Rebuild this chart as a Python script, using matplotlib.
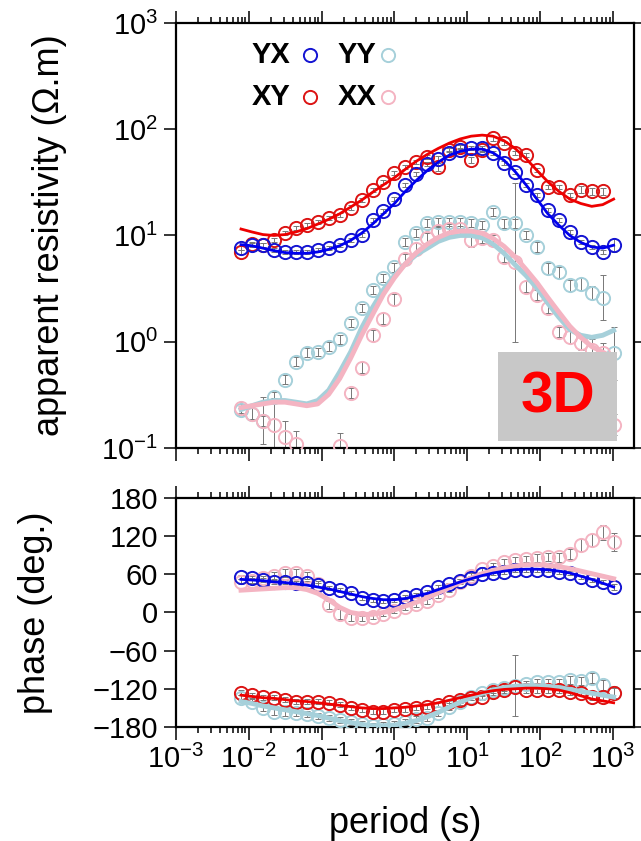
import numpy as np
import matplotlib
matplotlib.use("Agg")
import matplotlib.pyplot as plt
from matplotlib.ticker import LogLocator, NullLocator, NullFormatter, FixedLocator

plt.rcParams['font.family'] = ['Liberation Sans', 'DejaVu Sans']
plt.rcParams['mathtext.fontset'] = 'custom'
plt.rcParams['mathtext.rm'] = 'Liberation Sans'
plt.rcParams['mathtext.it'] = 'Liberation Sans'

nan = np.nan

# periods (s)
period = [0.00781, 0.0110, 0.0156, 0.0221, 0.0313, 0.0442, 0.0625, 0.0884, 0.125, 0.177,
          0.25, 0.354, 0.5, 0.707, 1.0, 1.41, 2.0, 2.83, 4.0, 5.66,
          8.0, 11.3, 16.0, 22.6, 32.0, 45.3, 64.0, 90.5, 128.0, 181.0,
          256.0, 362.0, 512.0, 724.0, 1024.0]

# apparent resistivity, observed
rho_yx = [7.6, 8.1, 8.1, 7.3, 7.0, 7.0, 7.0, 7.3, 7.6, 8.1,
          9.1, 10.1, 14.0, 17.0, 22.0, 30.0, 38.0, 47.0, 53.0, 60.0,
          64.0, 67.0, 66.0, 60.0, 48.0, 40.0, 30.0, 24.0, 17.4, 14.0,
          10.8, 8.7, 7.8, 7.0, 8.1]
rho_xy = [7.0, 8.3, 8.1, 9.1, 10.6, 11.8, 12.6, 13.4, 14.6, 15.6,
          18.3, 21.5, 27.0, 32.0, 39.0, 44.0, 49.0, 55.0, 44.0, 64.0,
          68.0, 51.0, 64.0, 82.0, 74.0, 60.0, 57.0, 41.0, 28.5, 28.5,
          24.0, 27.0, 26.0, 26.0, nan]
rho_yy = [0.23, 0.21, 0.18, 0.30, 0.44, 0.65, 0.79, 0.80, 0.90, 1.05,
          1.5, 2.08, 3.07, 4.0, 5.0, 8.7, 10.6, 13.1, 13.3, 13.4,
          13.4, 13.1, 12.5, 16.6, 13.0, 13.0, 10.1, 7.8, 4.9, 4.5,
          3.4, 3.5, 2.9, 2.6, 0.78]
rho_xx = [0.24, 0.21, 0.18, 0.165, 0.127, 0.11, nan, nan, nan, 0.105,
          0.33, 0.57, 1.15, 1.65, 2.5, 6.0, 7.5, 9.5, 11.0, 11.5,
          11.5, 9.0, 9.5, 9.1, 6.3, 5.6, 3.3, 2.75, 2.08, 1.24,
          1.11, 0.97, 0.84, 0.78, 0.166]

# error half widths (log10 units)
err_yx = [0.02, 0.02, 0.02, 0.02, 0.02, 0.02, 0.02, 0.02, 0.02, 0.02,
          0.02, 0.02, 0.02, 0.02, 0.02, 0.02, 0.02, 0.02, 0.02, 0.02,
          0.02, 0.02, 0.02, 0.02, 0.02, 0.02, 0.02, 0.02, 0.02, 0.02,
          0.02, 0.02, 0.02, 0.02, 0.06]
err_xy = [0.02, 0.02, 0.02, 0.02, 0.02, 0.02, 0.02, 0.02, 0.02, 0.02,
          0.02, 0.02, 0.02, 0.02, 0.02, 0.02, 0.02, 0.02, 0.04, 0.02,
          0.02, 0.03, 0.02, 0.02, 0.02, 0.02, 0.02, 0.02, 0.02, 0.02,
          0.02, 0.03, 0.03, 0.03, 0.03]
err_yy = [0.05, 0.05, 0.22, 0.05, 0.04, 0.04, 0.04, 0.04, 0.04, 0.04,
          0.04, 0.04, 0.04, 0.04, 0.04, 0.04, 0.04, 0.04, 0.04, 0.04,
          0.04, 0.04, 0.04, 0.04, 0.04, 0.04, 0.04, 0.05, 0.05, 0.05,
          0.05, 0.06, 0.06, 0.21, 0.25]
err_xx = [0.05, 0.05, 0.05, 0.25, 0.15, 0.12, nan, nan, nan, 0.12,
          0.05, 0.05, 0.05, 0.05, 0.05, 0.05, 0.05, 0.05, 0.05, 0.05,
          0.06, 0.06, 0.05, 0.05, 0.05, 0.75, 0.05, 0.05, 0.05, 0.05,
          0.06, 0.06, 0.10, 0.10, 0.10]

# apparent resistivity, model response
mrho_yx = [8.2, 8.0, 7.6, 7.2, 6.9, 6.8, 6.8, 7.0, 7.4, 8.0,
           9.0, 10.5, 12.8, 16.0, 20.0, 26.0, 33.0, 41.0, 49.0, 57.0,
           62.0, 65.0, 65.0, 60.0, 51.0, 40.0, 30.0, 22.0, 16.0, 12.5,
           10.0, 8.6, 7.8, 7.6, 8.1]
mrho_xy = [11.5, 10.8, 10.2, 10.0, 10.2, 10.8, 11.6, 12.8, 14.2, 16.0,
           18.5, 21.5, 25.5, 30.0, 35.0, 42.0, 50.0, 58.0, 66.0, 74.0,
           81.0, 86.0, 88.0, 86.0, 78.0, 66.0, 53.0, 41.0, 32.0, 26.0,
           22.0, 20.0, 18.8, 19.5, 22.0]
mrho_yy = [0.23, 0.25, 0.27, 0.28, 0.28, 0.27, 0.26, 0.28, 0.35, 0.52,
           0.8, 1.35, 2.1, 3.1, 4.2, 5.4, 6.6, 7.6, 8.8, 9.6,
           10.0, 10.0, 9.5, 8.3, 6.8, 5.3, 4.2, 3.2, 2.3, 1.7,
           1.3, 1.15, 1.1, 1.15, 1.28]
mrho_xx = [0.24, 0.25, 0.26, 0.27, 0.27, 0.26, 0.25, 0.26, 0.32, 0.45,
           0.7, 1.15, 1.8, 2.8, 4.0, 5.4, 6.9, 8.3, 9.6, 10.6,
           11.0, 11.0, 10.5, 9.4, 7.9, 6.3, 4.8, 3.6, 2.6, 1.9,
           1.4, 1.1, 0.9, 0.8, 0.7]

# phase, observed (deg)
phs_yx = [56, 54, 51, 48, 48, 46, 46, 43, 38, 35,
          30, 23, 19, 18, 20, 24, 27, 32, 40, 44,
          49, 54, 60, 62, 64, 67, 67, 67, 67, 64,
          62, 56, 51, 48, 40]
phs_xx = [48, 50, 54, 58, 62, 62, 58, 45, 12, -2,
          -8, -9, -7, -2, 3, 8, 13, 18, 27, 36,
          48, 58, 68, 73, 79, 82, 84, 86, 87, 87,
          92, 106, 114, 126, 111]
phs_xy = [-126, -130, -133, -134, -137, -140, -140, -140, -142, -145,
          -150, -153, -156, -156, -153, -152, -150, -148, -145, -141,
          -138, -134, -133, -125, -122, -117, -122, -122, -122, -122,
          -125, -126, -133, -133, -126]
phs_yy = [-134, -140, -150, -156, -157, -158, -160, -163, -166, -169,
          -172, -175, -178, -177, -175, -172, -168, -166, -158, -148,
          -140, -133, -127, -122, -118, -115, -112, -110, -109, -109,
          -106, -108, -103, -114, -126]

perr_yx = [3, 3, 3, 3, 3, 3, 3, 3, 3, 3,
           3, 3, 3, 3, 3, 3, 3, 3, 3, 3,
           3, 3, 3, 3, 3, 3, 3, 3, 3, 3,
           3, 3, 3, 3, 4]
perr_xx = [4, 4, 4, 6, 6, 6, 6, 5, 6, 8,
           5, 4, 4, 4, 4, 4, 4, 4, 4, 4,
           4, 4, 4, 4, 5, 5, 5, 6, 6, 7,
           8, 10, 10, 12, 14]
perr_xy = [4, 4, 4, 4, 4, 4, 4, 4, 4, 4,
           4, 4, 4, 4, 4, 4, 4, 4, 4, 4,
           4, 4, 4, 4, 4, 4, 4, 4, 4, 4,
           4, 4, 5, 5, 8]
perr_yy = [4, 4, 5, 5, 5, 5, 5, 5, 5, 5,
           5, 5, 5, 5, 5, 5, 5, 5, 5, 5,
           5, 5, 5, 5, 5, 48, 5, 5, 5, 5,
           6, 6, 8, 8, 10]

# phase, model response
mphs_yx = [52, 51, 50, 48, 47, 45, 43, 40, 37, 33,
           29, 25, 22, 20, 20, 22, 26, 30, 36, 42,
           48, 53, 58, 62, 65, 67, 68, 68, 67, 65,
           62, 57, 52, 46, 40]
mphs_xx = [35, 36, 37, 38, 39, 39, 36, 30, 20, 8,
           0, -3, -3, 0, 4, 10, 16, 23, 31, 39,
           47, 54, 61, 66, 70, 73, 75, 75, 74, 72,
           69, 65, 61, 57, 53]
mphs_xy = [-130, -132, -134, -135, -137, -139, -140, -142, -144, -146,
           -148, -150, -151, -151, -150, -149, -147, -145, -142, -138,
           -134, -130, -126, -123, -121, -120, -119, -119, -120, -122,
           -126, -131, -136, -139, -142]
mphs_yy = [-140, -143, -147, -150, -153, -156, -159, -162, -166, -170,
           -173, -176, -178, -178, -177, -174, -170, -164, -157, -149,
           -141, -134, -127, -122, -118, -116, -115, -115, -116, -118,
           -121, -124, -127, -130, -133]

c_yx, c_xy, c_yy, c_xx = '#1414d2', '#dc1414', '#a6d0da', '#f4b4c2'
lc_yx, lc_xy = '#0000ee', '#ee0000'

T = np.array(period)

fig = plt.figure(figsize=(6.41, 8.41), dpi=100)
ax1 = fig.add_axes([0.2746, 0.4673, 0.7145, 0.5054])
ax2 = fig.add_axes([0.2746, 0.1356, 0.7145, 0.2723])


def rho_series(ax, vals, errs, color):
    v = np.array(vals, dtype=float)
    e = np.array(errs, dtype=float)
    lo = v - v * 10 ** (-e)
    hi = v * 10 ** e - v
    ax.errorbar(T, v, yerr=[lo, hi], fmt='none', ecolor='#777777', elinewidth=0.7,
                capsize=2, capthick=0.7, zorder=2)
    ax.plot(T, v, 'o', ms=9.5, mfc='none', mec=color, mew=1.4, zorder=3)


def phs_series(ax, vals, errs, color):
    ax.errorbar(T, vals, yerr=errs, fmt='none', ecolor='#777777', elinewidth=0.7,
                capsize=2, capthick=0.7, zorder=2)
    ax.plot(T, vals, 'o', ms=9.5, mfc='none', mec=color, mew=1.4, zorder=3)


# --- resistivity panel ---
rho_series(ax1, rho_yy, err_yy, c_yy)
rho_series(ax1, rho_xx, err_xx, c_xx)
rho_series(ax1, rho_xy, err_xy, c_xy)
rho_series(ax1, rho_yx, err_yx, c_yx)
ax1.plot(T, mrho_yy, color=c_yy, lw=3.5, zorder=4)
ax1.plot(T, mrho_xx, color=c_xx, lw=3.5, zorder=4)
ax1.plot(T, mrho_xy, color=lc_xy, lw=2, zorder=5)
ax1.plot(T, mrho_yx, color=lc_yx, lw=2, zorder=5)

ax1.set_xscale('log')
ax1.set_yscale('log')
ax1.set_xlim(1e-3, 1950)
ax1.set_ylim(0.1, 1000)
ax1.yaxis.set_minor_locator(NullLocator())
ax1.set_ylabel('apparent resistivity (\u03a9.m)', fontsize=26)
ax1.yaxis.set_label_coords(-0.238, 0.5)

# legend
leg_rows = [(0.925, [('YX', c_yx, 0.249, 0.293), ('YY', c_yy, 0.437, 0.463)]),
            (0.826, [('XY', c_xy, 0.249, 0.293), ('XX', c_xx, 0.437, 0.463)])]
for yy, items in leg_rows:
    for lab, col, xt, xm in items:
        ax1.text(xt, yy, lab, transform=ax1.transAxes, ha='right', va='center',
                 fontsize=21, fontweight='bold')
        ax1.plot([xm], [yy], 'o', ms=9.5, mfc='none', mec=col, mew=1.4,
                 transform=ax1.transAxes, clip_on=False)

# 3D box
ax1.add_patch(plt.Rectangle((0.703, 0.0165), 0.26, 0.209, transform=ax1.transAxes,
                            facecolor='#c8c8c8', edgecolor='none', zorder=6))
ax1.text(0.833, 0.118, '3D', transform=ax1.transAxes, ha='center', va='center',
         fontsize=42, fontweight='bold', color='#ff0000', zorder=7)

# --- phase panel ---
phs_series(ax2, phs_yy, perr_yy, c_yy)
phs_series(ax2, phs_xx, perr_xx, c_xx)
phs_series(ax2, phs_xy, perr_xy, c_xy)
phs_series(ax2, phs_yx, perr_yx, c_yx)
ax2.plot(T, mphs_yy, color=c_yy, lw=3.5, zorder=4)
ax2.plot(T, mphs_xx, color=c_xx, lw=3.5, zorder=4)
ax2.plot(T, mphs_xy, color=lc_xy, lw=2, zorder=5)
ax2.plot(T, mphs_yx, color=lc_yx, lw=2, zorder=5)

ax2.set_xscale('log')
ax2.set_xlim(1e-3, 1950)
ax2.set_ylim(-180, 180)
ax2.yaxis.set_major_locator(FixedLocator([-180, -120, -60, 0, 60, 120, 180]))
ax2.yaxis.set_minor_locator(NullLocator())
ax2.set_ylabel('phase (deg.)', fontsize=26)
ax2.yaxis.set_label_coords(-0.269, 0.5)
ax2.set_xlabel('period (s)', fontsize=26)
ax2.xaxis.set_label_coords(0.5, -0.345)

for ax in (ax1, ax2):
    ax.xaxis.set_major_locator(LogLocator(base=10, numticks=12))
    ax.xaxis.set_minor_locator(LogLocator(base=10, subs=np.arange(2, 10), numticks=12))
    ax.xaxis.set_minor_formatter(NullFormatter())
    ax.tick_params(which='both', direction='out', top=True, right=True,
                   labeltop=False, labelright=False, width=1.1, labelsize=21)
    ax.tick_params(which='major', length=9, pad=4)
    ax.tick_params(which='minor', length=4.5)
    for s in ax.spines.values():
        s.set_linewidth(1.6)
ax1.tick_params(labelbottom=False)

fig.savefig('out.png', dpi=100)
